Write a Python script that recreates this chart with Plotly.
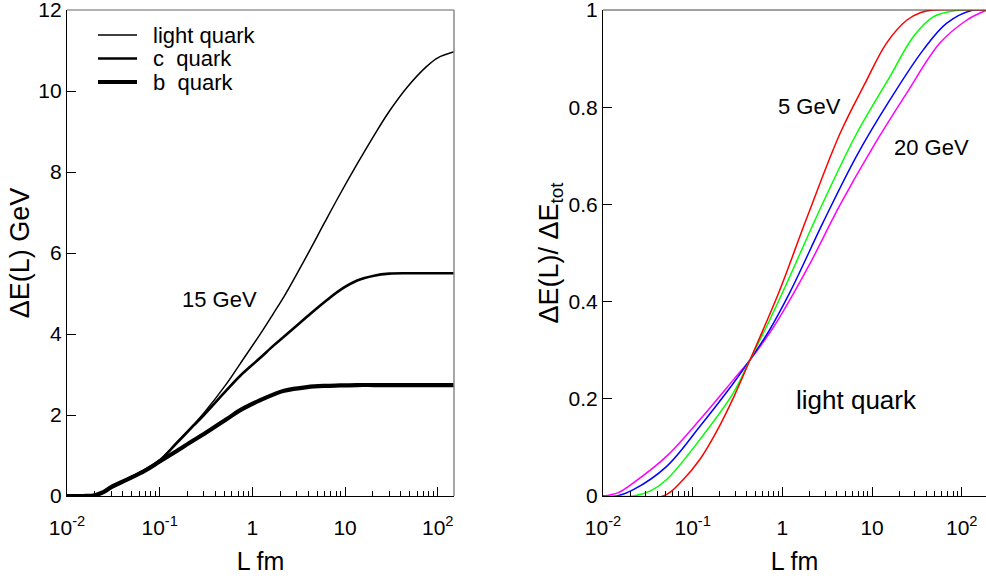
import plotly.graph_objects as go

# ---------------- data: left panel (15 GeV) ----------------
L_left = [0.01, 0.015, 0.02, 0.025, 0.03, 0.045, 0.07, 0.1, 0.15, 0.23, 0.3, 0.53, 0.74,
          1.2, 1.7, 2.2, 3.9, 6.0, 8.9, 13.5, 20.5, 30, 47, 77, 100, 150]
dE_light = [0, 0.0, 0.02, 0.1, 0.22, 0.42, 0.65, 0.88, 1.3, 1.75, 2.05, 2.78, 3.27,
            3.98, 4.52, 4.93, 5.95, 6.75, 7.47, 8.2, 8.9, 9.5, 10.1, 10.62, 10.82, 10.97]
dE_c = [0, 0.0, 0.02, 0.1, 0.22, 0.42, 0.65, 0.88, 1.29, 1.73, 2.0, 2.62, 2.97,
        3.4, 3.72, 3.94, 4.43, 4.79, 5.09, 5.32, 5.44, 5.49, 5.5, 5.5, 5.5, 5.5]
dE_b = [0, 0.0, 0.02, 0.1, 0.22, 0.41, 0.63, 0.85, 1.1, 1.37, 1.53, 1.9, 2.12,
        2.36, 2.51, 2.6, 2.69, 2.72, 2.73, 2.74, 2.74, 2.74, 2.74, 2.74, 2.74, 2.74]

# ---------------- data: right panel (light quark, ratio dE(L)/dE_tot) ----------------
L_5 = [0.01, 0.047, 0.0785, 0.12, 0.185, 0.284, 0.435, 0.9, 1.87, 4.39, 8.34, 14.5, 24.3, 35, 48, 190]
R_5 = [0, 0, 0.034, 0.075, 0.133, 0.202, 0.28, 0.416, 0.572, 0.746, 0.849, 0.932, 0.979, 0.995, 1.0, 1.0]
L_10 = [0.01, 0.0218, 0.0334, 0.0513, 0.12, 0.284, 0.435, 0.7, 1.07, 2.86, 6.73, 15.8, 28.8, 48, 95, 190]
R_10 = [0, 0, 0.01, 0.034, 0.116, 0.212, 0.28, 0.357, 0.43, 0.605, 0.746, 0.863, 0.945, 0.986, 1.0, 1.0]
L_15 = [0.01, 0.0142, 0.0218, 0.0513, 0.12, 0.284, 0.435, 0.7, 1.22, 2.86, 6.73, 15.8, 37.2, 68, 134, 190]
R_15 = [0, 0, 0.013, 0.061, 0.143, 0.232, 0.28, 0.338, 0.42, 0.564, 0.70, 0.815, 0.918, 0.973, 1.0, 1.0]
L_20 = [0.01, 0.0148, 0.0218, 0.0513, 0.12, 0.284, 0.435, 0.7, 1.02, 2.0, 4.39, 10.3, 24.3, 57, 113, 174, 190]
R_20 = [0, 0.007, 0.027, 0.082, 0.157, 0.239, 0.28, 0.332, 0.38, 0.476, 0.599, 0.719, 0.829, 0.932, 0.979, 0.997, 1.0]

x_tickvals = [0.01, 0.1, 1, 10, 100]
x_ticktext = ["10<sup>-2</sup>", "10<sup>-1</sup>", "1", "10", "10<sup>2</sup>"]
x_minor = [m * d for d in [0.01, 0.1, 1, 10, 100] for m in range(2, 10)]
yl_tickvals = [0, 2, 4, 6, 8, 10, 12]
yr_tickvals = [0, 0.2, 0.4, 0.6, 0.8, 1]
yr_ticktext = ["0", "0.2", "0.4", "0.6", "0.8", "1"]
legend_names = ["light quark", "c  quark", "b  quark"]
legend_widths = [1.5, 2.6, 4.2]

FONT = "Liberation Sans, Arial, sans-serif"
W, H = 986, 583
ml, mr, mt, mb = 67, 0, 10, 87
pw, ph = W - ml - mr, H - mt - mb
left_dom = [0, (454 - ml) / pw]
right_dom = [(603 - ml) / pw, 1]


def px2paper(px, py):
    return (px - ml) / pw, (H - mb - py) / ph


fig = go.Figure()
spl = dict(shape="spline", smoothing=1.0)
for yv, nm, wd in zip([dE_light, dE_c, dE_b], legend_names, legend_widths):
    fig.add_trace(go.Scatter(x=L_left, y=yv, mode="lines", name=nm, showlegend=False,
                             line=dict(color="black", width=wd, **spl), xaxis="x", yaxis="y"))

for Lx, Ry, col, nm in [(L_20, R_20, "#ff00ff", "20 GeV"), (L_15, R_15, "#0000ff", "15 GeV"),
                        (L_10, R_10, "#00ff00", "10 GeV"), (L_5, R_5, "#ff0000", "5 GeV")]:
    fig.add_trace(go.Scatter(x=Lx, y=Ry, mode="lines", name=nm, showlegend=False,
                             line=dict(color=col, width=1.5, **spl), xaxis="x2", yaxis="y2"))

xcommon = dict(type="log", tickvals=x_tickvals, ticktext=x_ticktext, ticks="inside",
               ticklen=9, tickwidth=1, tickcolor="black", showline=True, linecolor="black",
               linewidth=1.2, showgrid=False, zeroline=False, automargin=False,
               ticklabeloverflow="allow", ticklabelstandoff=13,
               tickfont=dict(family=FONT, size=21, color="black"),
               minor=dict(tickvals=x_minor, ticks="inside", ticklen=5, tickcolor="black", showgrid=False),
               title=dict(text="L fm", font=dict(family=FONT, size=25, color="black"), standoff=14))
ycommon = dict(ticks="inside", ticklen=9, tickwidth=1, tickcolor="black", showline=True,
               linecolor="black", linewidth=1.2, showgrid=False, zeroline=False, automargin=False,
               ticklabeloverflow="allow",
               tickfont=dict(family=FONT, size=21, color="black"))

fig.update_layout(
    width=W, height=H, margin=dict(l=ml, r=mr, t=mt, b=mb, autoexpand=False),
    paper_bgcolor="white", plot_bgcolor="white",
    font=dict(family=FONT, color="black"),
    showlegend=False,
    xaxis=dict(domain=left_dom, range=[-2, 2.175], anchor="y", **xcommon),
    xaxis2=dict(domain=right_dom, range=[-2, 2.27], anchor="y2", **xcommon),
    yaxis=dict(domain=[0, 1], range=[0, 12.001], tickvals=yl_tickvals, anchor="x",
               title=dict(text="ΔE(L) GeV", font=dict(family=FONT, size=27, color="black"), standoff=0),
               **ycommon),
    yaxis2=dict(domain=[0, 1], range=[0, 1.0001], tickvals=yr_tickvals, ticktext=yr_ticktext, anchor="x2",
                title=dict(text="ΔE(L)/ ΔE<sub>tot</sub>", font=dict(family=FONT, size=27, color="black"),
                           standoff=2),
                **ycommon),
)

# frame lines (top / right)
fig.add_shape(type="line", xref="x domain", yref="y domain", x0=0, x1=1, y0=1, y1=1,
              line=dict(color="#666666", width=1.2))
fig.add_shape(type="line", xref="x domain", yref="y domain", x0=1, x1=1, y0=0, y1=1,
              line=dict(color="#888888", width=1.5))
fig.add_shape(type="line", xref="x2 domain", yref="y2 domain", x0=0, x1=1, y0=1, y1=1,
              line=dict(color="#444444", width=1.2))

# legend (drawn key lines + labels)
for i, (nm, wd) in enumerate(zip(legend_names, legend_widths)):
    sy = 35 + i * 23.5
    x0, y0 = px2paper(98, sy)
    x1, _ = px2paper(137, sy)
    fig.add_shape(type="line", xref="paper", yref="paper", x0=x0, x1=x1, y0=y0, y1=y0,
                  line=dict(color="black", width=wd))
    tx, ty = px2paper(151, sy)
    fig.add_annotation(x=tx, y=ty, xref="paper", yref="paper", text=nm, showarrow=False,
                       xanchor="left", yanchor="middle", font=dict(family=FONT, size=22, color="black"))

ann_font = dict(family=FONT, size=22, color="black")
fig.add_annotation(x=-0.35, y=4.85, xref="x", yref="y", text="15 GeV", showarrow=False, font=ann_font)
fig.add_annotation(x=0.3, y=0.802, xref="x2", yref="y2", text="5 GeV", showarrow=False, font=ann_font)
fig.add_annotation(x=1.66, y=0.718, xref="x2", yref="y2", text="20 GeV", showarrow=False, font=ann_font)
fig.add_annotation(x=0.83, y=0.197, xref="x2", yref="y2", text="light quark", showarrow=False,
                   font=dict(family=FONT, size=26, color="black"))

# remove the default page margin so the figure sits at the window's top-left corner; hide the modebar
fig.write_html("out.html", config={"displayModeBar": False},
               post_script="document.body.style.margin='0px';")
